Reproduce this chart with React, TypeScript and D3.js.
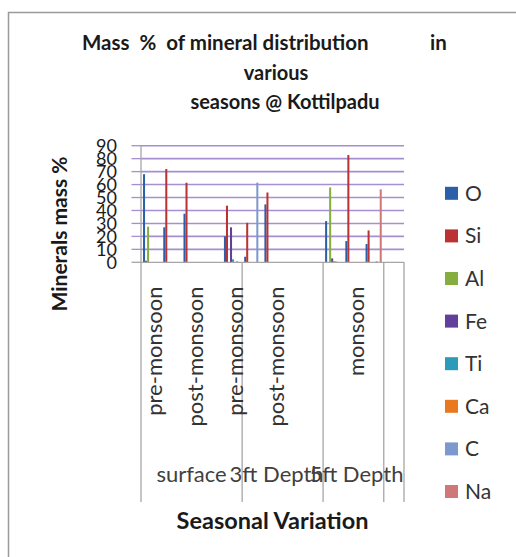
import React from "react";
import * as d3 from "d3";

// Mineral series (legend order)
const seriesNames = ["O", "Si", "Al", "Fe", "Ti", "Ca", "C", "Na"];
const seriesColors = ["#2b5fa9", "#bb3232", "#86ae3e", "#60409a", "#2b9bb9", "#e9781f", "#7b99cd", "#d07878"];

// Sample positions along the category axis
const innerLabels = [
  "pre-monsoon", "", "post-monsoon", "", "pre-monsoon", "", "post-monsoon",
  "", "", "", "monsoon", "", "",
];

// Depth groups: [label, first category index, last category index]
const depthGroups: [string, number, number][] = [
  ["surface", 0, 4],
  ["3ft Depth", 5, 8],
  ["5ft Depth", 9, 11],
  ["", 12, 12],
];

// Mass % per category for each mineral
const O = [68, 27, 37.5, 0, 20, 4.3, 44.7, 0, 0, 31.8, 16.4, 14.1, 0];
const Si = [1.2, 72, 61.4, 0, 43.7, 30.5, 53.9, 0, 0, 0, 82.8, 24.6, 0];
const Al = [27.5, 0, 0, 0, 0, 0, 0, 0, 0, 57.8, 0, 0, 0];
const Fe = [0, 0, 0, 0, 27, 0, 0, 0, 0, 3, 0, 0, 0];
const Ti = [0, 0, 0, 0, 2.3, 0, 0, 0, 0, 0.8, 0, 0, 0];
const Ca = [0, 0, 0, 0, 0, 0, 0, 0, 0, 0.6, 0, 0.8, 0];
const C = [0, 0, 0, 0, 0.8, 61.5, 0, 0, 0, 0, 0, 0, 0];
const Na = [0, 0, 0, 0, 0, 0, 0, 0, 0, 0, 0, 56.3, 0];

const seriesValues = [O, Si, Al, Fe, Ti, Ca, C, Na];
const yTicks = [0, 10, 20, 30, 40, 50, 60, 70, 80, 90];

const titleLines = ["Mass  %  of mineral distribution", "in", "various", "seasons @ Kottilpadu"];

export default function App() {
  const W = 516;
  const H = 557;
  const left = 141;
  const right = 404;
  const top = 145.7;
  const bottom = 262.3;
  const font = "Lato, 'Liberation Sans', sans-serif";

  const cats = innerLabels.map((_, i) => i);
  const x0 = d3.scaleBand<number>().domain(cats).range([left, right]).padding(0);
  const x1 = d3
    .scaleBand<string>()
    .domain(seriesNames)
    .range([0, x0.bandwidth()])
    .paddingInner(0)
    .paddingOuter(1);
  const y = d3.scaleLinear().domain([0, 90]).range([bottom, top]);

  const axisGrey = "#a6a6a6";
  const gridColor = "#a68ed2";
  const sepBottom = 502;

  const boundaries = depthGroups.map(([, a]) => x0(a)!);
  boundaries.push(right);

  // small horizontal nudges for the depth labels as laid out by the axis
  const groupNudge = [0, -6, 3, 0];

  return (
    <svg width={W} height={H} style={{ display: "block", position: "absolute", left: 0, top: 0 }}>
      <rect x={0} y={0} width={W} height={H} fill="#ffffff" />
      <rect x={8.5} y={12.5} width={W + 20} height={H + 20} fill="none" stroke="#9a9a9a" strokeWidth={1.5} />

      {/* title */}
      <g fontFamily={font} fontWeight="bold" fontSize={20} fill="#1a1a1a" xmlSpace="preserve">
        <text x={82} y={50} fontSize={20.5} style={{ whiteSpace: "pre" }}>{titleLines[0]}</text>
        <text x={430} y={50} fontSize={20.5}>{titleLines[1]}</text>
        <text x={276} y={80} textAnchor="middle">{titleLines[2]}</text>
        <text x={285} y={109} textAnchor="middle">{titleLines[3]}</text>
      </g>

      {/* gridlines and y ticks */}
      {yTicks.map((t) => (
        <g key={t}>
          {t > 0 && (
            <line x1={left} x2={right} y1={y(t)} y2={y(t)} stroke={gridColor} strokeWidth={1.6} />
          )}
          <line x1={131.5} x2={left} y1={y(t)} y2={y(t)} stroke={t > 0 ? gridColor : axisGrey} strokeWidth={1.3} />
          <text
            x={117}
            y={y(t)}
            dy="0.36em"
            textAnchor="end"
            fontFamily={font}
            fontSize={18}
            fill="#1a1a1a"
          >
            {t}
          </text>
        </g>
      ))}

      {/* bars */}
      {cats.map((ci) => (
        <g key={ci} transform={`translate(${x0(ci)},0)`}>
          {seriesNames.map((s, si) => {
            const v = seriesValues[si][ci];
            if (!v) return null;
            return (
              <rect
                key={s}
                x={x1(s)}
                y={y(v)}
                width={x1.bandwidth()}
                height={bottom - y(v)}
                fill={seriesColors[si]}
              />
            );
          })}
        </g>
      ))}

      {/* axes */}
      <line x1={left} x2={left} y1={top} y2={bottom} stroke={axisGrey} strokeWidth={1.3} />
      <line x1={left} x2={right} y1={bottom} y2={bottom} stroke={axisGrey} strokeWidth={1.3} />
      {boundaries.map((bx, i) => (
        <line key={i} x1={bx} x2={bx} y1={bottom} y2={sepBottom} stroke={axisGrey} strokeWidth={1.3} />
      ))}

      {/* season labels */}
      {innerLabels.map((lab, i) =>
        lab ? (
          <text
            key={i}
            transform={`translate(${x0(i)! + x0.bandwidth() / 2 + 2.5},${286.5}) rotate(-90)`}
            textAnchor="end"
            dominantBaseline="central"
            fontFamily={font}
            fontSize={22}
            fill="#333"
          >
            {lab}
          </text>
        ) : null
      )}

      {/* depth labels */}
      {depthGroups.map(([lab, a, b], i) =>
        lab ? (
          <text
            key={i}
            x={(x0(a)! + x0(b)! + x0.bandwidth()) / 2 + groupNudge[i]}
            y={482}
            textAnchor="middle"
            fontFamily={font}
            fontSize={22}
            fill="#404040"
          >
            {lab}
          </text>
        ) : null
      )}

      {/* axis titles */}
      <text
        transform="translate(58,234) rotate(-90)"
        textAnchor="middle"
        dominantBaseline="central"
        fontFamily={font}
        fontWeight="bold"
        fontSize={21}
        fill="#1a1a1a"
      >
        Minerals mass %
      </text>
      <text x={272.5} y={529} textAnchor="middle" fontFamily={font} fontWeight="bold" fontSize={23.5} fill="#1a1a1a">
        Seasonal Variation
      </text>

      {/* legend */}
      {seriesNames.map((s, i) => {
        const cy = 193.3 + i * 42.6;
        return (
          <g key={s}>
            <rect x={445} y={cy - 6.5} width={13} height={13} fill={seriesColors[i]} />
            <text x={465} y={cy} dy="0.36em" fontFamily={font} fontSize={21} fill="#333">
              {s}
            </text>
          </g>
        );
      })}
    </svg>
  );
}
